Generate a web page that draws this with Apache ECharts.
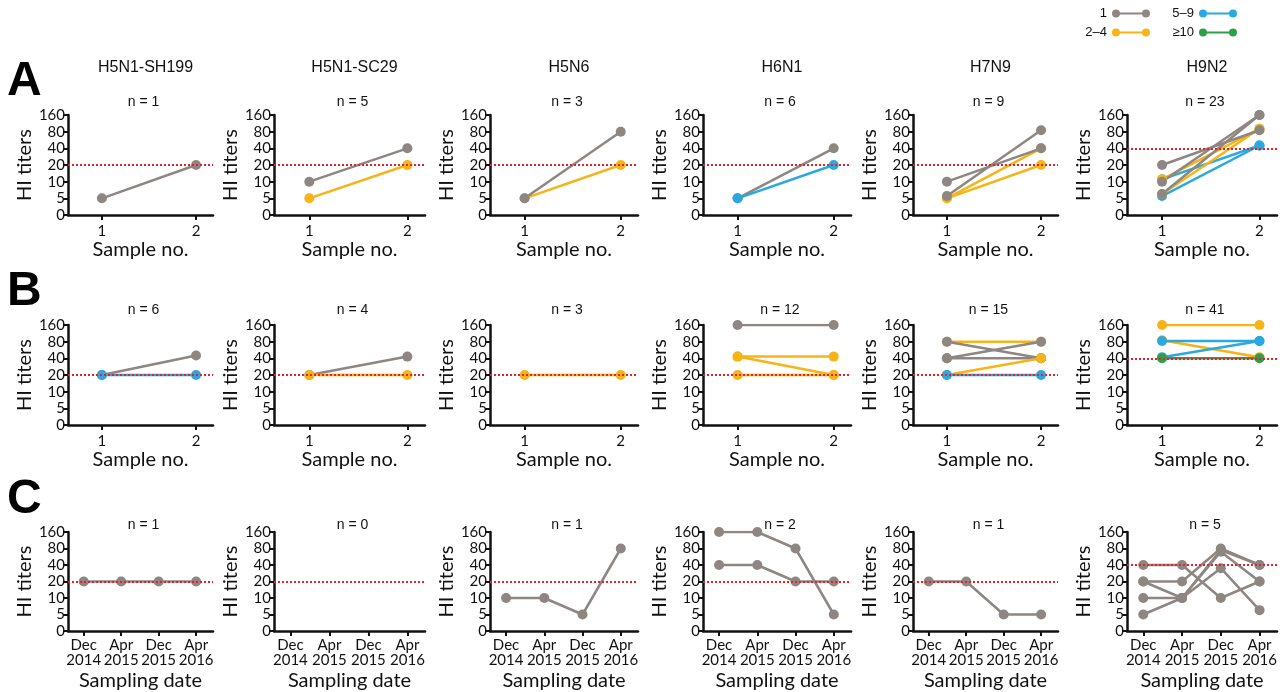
<!DOCTYPE html>
<html>
<head>
<meta charset="utf-8">
<script src="https://cdn.jsdelivr.net/npm/echarts@6/dist/echarts.min.js"></script>
<style>
  html, body { margin: 0; padding: 0; background: #fff; }
  #chart { width: 1288px; height: 692px; }
</style>
</head>
<body>
<div id="chart"></div>
<script>
// tick labels of the titer axis (evenly spaced, twofold steps)
const yTickLabels = ['0', '5', '10', '20', '40', '80', '160']
const sampleTicks = ['1', '2']
const dateTicks = ['Dec\n2014', 'Apr\n2015', 'Dec\n2015', 'Apr\n2016']
const subtypes = ['H5N1-SH199', 'H5N1-SC29', 'H5N6', 'H6N1', 'H7N9', 'H9N2']
const groups = ['1', '2–4', '5–9', '≥10']
const groupColors = ['#8d8683', '#f6b417', '#2aa8e0', '#2e9f49']
const nA = [1, 5, 3, 6, 9, 23]
const nB = [6, 4, 3, 12, 15, 41]
const nC = [1, 0, 1, 2, 1, 5]
const thresholds = [20, 20, 20, 20, 20, 40]

// [group, sample 1 titer, sample 2 titer]
const rowALines = [
  [['1', 5, 20]],
  [['1', 10, 40], ['2–4', 5, 20]],
  [['2–4', 5, 20], ['1', 5, 80]],
  [['1', 5, 40], ['5–9', 5, 20]],
  [['2–4', 5, 40], ['2–4', 5, 20], ['1', 10, 40], ['1', 5.5, 85]],
  [['5–9', 11, 45], ['5–9', 5.5, 45], ['2–4', 11, 90], ['2–4', 6, 90], ['1', 20, 85], ['1', 10, 160], ['1', 6, 160]]
]
const rowBLines = [
  [['1', 20, 45], ['5–9', 20, 20]],
  [['1', 20, 43], ['2–4', 20, 20]],
  [['2–4', 20, 20]],
  [['1', 160, 160], ['2–4', 43, 43], ['2–4', 43, 20], ['2–4', 20, 20]],
  [['2–4', 80, 80], ['1', 80, 40], ['1', 40, 80], ['1', 40, 40], ['2–4', 20, 40], ['5–9', 20, 20]],
  [['2–4', 160, 160], ['2–4', 85, 42], ['5–9', 82, 82], ['5–9', 42, 82], ['≥10', 40, 40]]
]
// [group, Dec 2014, Apr 2015, Dec 2015, Apr 2016]
const rowCLines = [
  [['1', 20, 20, 20, 20]],
  [],
  [['1', 10, 10, 5, 80]],
  [['1', 160, 160, 80, 5], ['1', 40, 40, 20, 20]],
  [['1', 20, 20, 5, 5]],
  [['1', 40, 40, 10, 20], ['1', 20, 20, 80, 40], ['1', 20, 10, 75, 40], ['1', 10, 10, 70, 20], ['1', 5, 10, 35, 6]]
]

// layout
const colLeft = [68, 274, 490, 703, 913, 1127]
const colRight = [213, 425, 638, 851, 1058, 1277]
const rowTop = [115, 325, 532]
const rowH = 100

const font = 'Lato'
const titleFont = '"Liberation Sans", Arial'

// titer -> evenly spaced position on the axis
const pos = (v) => (v <= 0 ? 0 : Math.log2(v / 5) + 1)

const grid = []
const xAxis = []
const yAxis = []
const series = []
const graphic = []

const rows = [rowALines, rowBLines, rowCLines]
const nLabels = [nA, nB, nC]
const nY = [102, 310, 525]

rows.forEach((row, r) => {
  row.forEach((lines, c) => {
    const gi = r * 6 + c
    const isDate = r === 2
    grid.push({
      left: colLeft[c],
      top: rowTop[r],
      width: colRight[c] - colLeft[c],
      height: rowH
    })
    xAxis.push({
      gridIndex: gi,
      type: 'value',
      min: isDate ? 0.58 : 0.64,
      max: isDate ? 4.45 : 2.18,
      name: isDate ? 'Sampling date' : 'Sample no.',
      nameLocation: 'middle',
      nameGap: isDate ? 40 : 25,
      nameTextStyle: { fontFamily: font, fontSize: 20, color: '#111' },
      splitLine: { show: false },
      axisLine: { show: true, lineStyle: { color: '#111', width: 2.5 } },
      axisTick: {
        show: true,
        length: 5,
        lineStyle: { color: '#111', width: 2 },
        customValues: isDate ? [1, 2, 3, 4] : [1, 2]
      },
      axisLabel: {
        fontFamily: font,
        fontSize: 15,
        lineHeight: 15,
        color: '#111',
        margin: isDate ? 7 : 9,
        customValues: isDate ? [1, 2, 3, 4] : [1, 2],
        formatter: (v) => (isDate ? dateTicks : sampleTicks)[Math.round(v) - 1]
      }
    })
    yAxis.push({
      gridIndex: gi,
      type: 'value',
      min: 0,
      max: 6,
      interval: 1,
      name: 'HI titers',
      nameLocation: 'middle',
      nameGap: 32,
      nameTextStyle: { fontFamily: font, fontSize: 20, color: '#111' },
      splitLine: { show: false },
      axisLine: { show: true, onZero: false, lineStyle: { color: '#111', width: 2.5 } },
      axisTick: { show: true, length: 5, lineStyle: { color: '#111', width: 2 } },
      axisLabel: {
        fontFamily: font,
        fontSize: 15,
        color: '#111',
        margin: 3,
        formatter: (v) => yTickLabels[v]
      }
    })

    // red dotted cut-off line
    series.push({
      type: 'line',
      name: 'cutoff',
      xAxisIndex: gi,
      yAxisIndex: gi,
      data: [],
      silent: true,
      markLine: {
        silent: true,
        symbol: 'none',
        label: { show: false },
        lineStyle: { color: '#e8202a', type: [2, 2], width: 2 },
        data: [{ yAxis: pos(thresholds[c]) }]
      }
    })

    lines.forEach((ln) => {
      const g = ln[0]
      const col = groupColors[groups.indexOf(g)]
      series.push({
        type: 'line',
        name: g,
        xAxisIndex: gi,
        yAxisIndex: gi,
        symbol: 'circle',
        symbolSize: 10,
        itemStyle: { color: col },
        lineStyle: { color: col, width: 2.5 },
        data: ln.slice(1).map((v, i) => [i + 1, pos(v)])
      })
    })

    graphic.push({
      type: 'text',
      style: {
        text: 'n = ' + nLabels[r][c],
        x: (colLeft[c] + colRight[c]) / 2 + 3,
        y: nY[r],
        textAlign: 'center',
        textVerticalAlign: 'middle',
        font: '14px ' + titleFont,
        fill: '#111'
      }
    })
  })
})

subtypes.forEach((s, c) => {
  graphic.push({
    type: 'text',
    style: {
      text: s,
      x: (colLeft[c] + colRight[c]) / 2 + 5,
      y: 68,
      textAlign: 'center',
      textVerticalAlign: 'middle',
      font: '16px ' + titleFont,
      fill: '#111'
    }
  })
})

;['A', 'B', 'C'].forEach((letter, i) => {
  graphic.push({
    type: 'text',
    style: {
      text: letter,
      x: 7,
      y: [82, 292, 500][i],
      textAlign: 'left',
      textVerticalAlign: 'middle',
      font: 'bold 48px ' + titleFont,
      fill: '#000'
    }
  })
})

// legend: line with a dot at each end
const legendIcon = 'path://M4,0A4,4 0 1 1 4,8A4,4 0 1 1 4,0Z M34,0A4,4 0 1 1 34,8A4,4 0 1 1 34,0Z M4,3L34,3L34,5L4,5Z'
const legendPos = [
  { right: 138, top: 7 },
  { right: 138, top: 26 },
  { right: 51, top: 7 },
  { right: 51, top: 26 }
]
const legend = groups.map((g, i) => ({
  data: [g],
  right: legendPos[i].right,
  top: legendPos[i].top,
  align: 'right',
  icon: legendIcon,
  itemWidth: 38,
  itemHeight: 8,
  itemGap: 0,
  padding: 0,
  selectedMode: false,
  textStyle: { fontFamily: titleFont, fontSize: 13, color: '#111', padding: [0, 0, 0, 0] }
}))

const chart = echarts.init(document.getElementById('chart'))
chart.setOption({
  animation: false,
  backgroundColor: '#fff',
  legend,
  grid,
  xAxis,
  yAxis,
  series,
  graphic
})
</script>
</body>
</html>
